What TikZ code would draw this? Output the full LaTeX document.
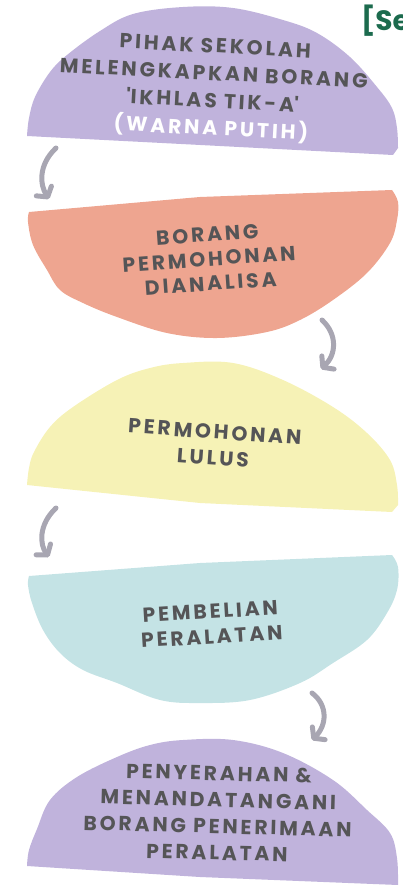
\documentclass[tikz,border=0pt]{standalone}
\usepackage{fontspec}
\usetikzlibrary{arrows.meta}
\newfontfamily\pop[LetterSpace=14]{Poppins}
\newfontfamily\popg{Poppins}
\definecolor{lav}{HTML}{C0B3DC}
\definecolor{salmon}{HTML}{EEA590}
\definecolor{lemon}{HTML}{F6F2B6}
\definecolor{aqua}{HTML}{C4E3E5}
\definecolor{arrowgray}{HTML}{A8A6B2}
\definecolor{txtgray}{HTML}{555557}
\definecolor{dgreen}{HTML}{1C6B4E}
\tikzset{
  lbl/.style={font=\pop\bfseries\fontsize{20.3}{26.5}\selectfont, text=txtgray, align=center, inner sep=0pt},
  flow/.style={draw=arrowgray, line width=5pt, line cap=round, line join=round,
    -{Straight Barb[length=7pt,width=18pt,line cap=round,line join=round]}}
}
\begin{document}
\begin{tikzpicture}[x=1pt,y=-1pt]
\useasboundingbox (0,0) rectangle (403,885);
% blobs
\fill[lav] plot[smooth, tension=0.6] coordinates {(27,136) (29,118) (35,97) (50,72) (67,55) (100,31) (133,14) (183,7) (233,8) (283,20) (317,33) (350,57) (377,87) (392,108) (397,128) (398,148)} -- (393,155) -- cycle;
\fill[salmon] plot[smooth, tension=0.6] coordinates {(392,190) (398,202) (397,220) (390,243) (367,273) (333,300) (300,320) (267,332) (217,338) (167,333) (117,317) (83,303) (60,290) (47,270) (33,245) (28,222) (29,212)} -- (200,197) -- cycle;
\fill[lemon] plot[smooth, tension=0.6] coordinates {(27,485) (29,468) (34,452) (50,427) (73,407) (117,380) (150,368) (183,363) (233,363) (283,380) (333,407) (367,433) (390,460) (397,485) (398,505)} -- (392,512) -- (200,503) -- cycle;
\fill[aqua] plot[smooth, tension=0.6] coordinates {(392,555) (398,567) (397,590) (387,613) (367,640) (333,663) (300,683) (250,700) (200,703) (160,700) (117,683) (83,670) (60,653) (43,630) (32,603) (28,585) (29,576)} -- (200,563) -- cycle;
\fill[lav] plot[smooth, tension=0.6] coordinates {(27,866) (29,850) (37,829) (50,800) (77,777) (117,757) (150,745) (183,740) (233,740) (283,753) (333,780) (367,810) (390,833) (397,858) (398,885)} -- (200,877) -- cycle;
% labels
\node[lbl, rotate=-3, font=\pop\bfseries\fontsize{20.3}{27.5}\selectfont] (s1) at (213,89) {PIHAK SEKOLAH\\MELENGKAPKAN BORANG\\\textquotesingle IKHLAS TIK-A\textquotesingle\\\textcolor{white}{(WARNA PUTIH)}};
\node[lbl, rotate=4, font=\pop\bfseries\fontsize{20.3}{24.5}\selectfont] (s2) at (209,259) {BORANG\\PERMOHONAN\\DIANALISA};
\node[lbl, rotate=-4] (s3) at (214,445) {PERMOHONAN\\LULUS};
\node[lbl, rotate=3.5, font=\pop\bfseries\fontsize{20.3}{25}\selectfont] (s4) at (211,624) {PEMBELIAN\\PERALATAN};
\node[lbl, rotate=-1.5] (s5) at (218,813) {PENYERAHAN \&\\MENANDATANGANI\\BORANG PENERIMAAN\\PERALATAN};
\node[anchor=base west, inner sep=0pt, font=\popg\bfseries\fontsize{28}{30}\selectfont, text=dgreen] (hd) at (361,31) {[Se};
% arrows
\coordinate (a1s) at (56,148); \coordinate (a1e) at (49,199);
\coordinate (a2s) at (322,320); \coordinate (a2e) at (321,369);
\coordinate (a3s) at (56,508); \coordinate (a3e) at (49,557);
\coordinate (a4s) at (312,693); \coordinate (a4e) at (312,740);
\draw[flow] (a1s) .. controls (38,165) and (40,185) .. (a1e);
\draw[flow] (a2s) .. controls (338,335) and (336,355) .. (a2e);
\draw[flow] (a3s) .. controls (38,525) and (40,545) .. (a3e);
\draw[flow] (a4s) .. controls (328,705) and (327,725) .. (a4e);
\end{tikzpicture}
\end{document}
